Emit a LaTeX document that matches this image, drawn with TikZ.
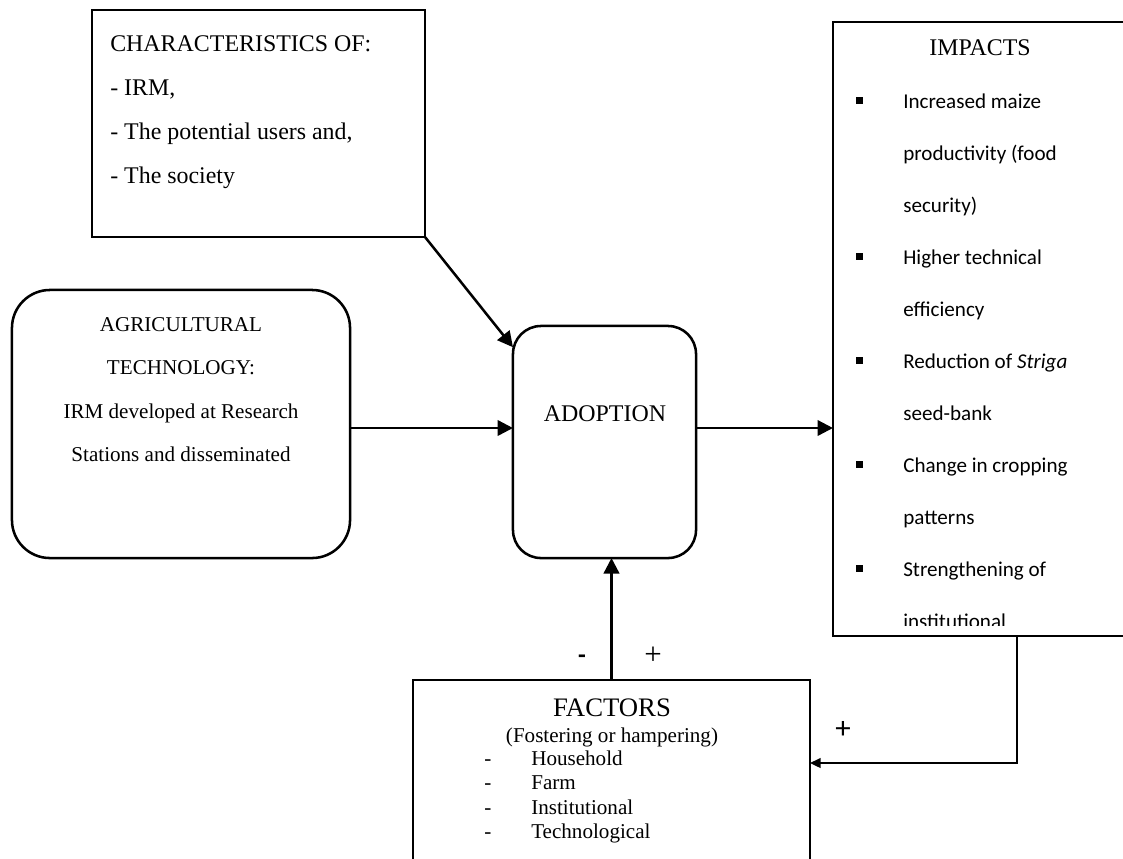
\documentclass[tikz,border=0pt]{standalone}
\usepackage{fontspec}
\setmainfont{Liberation Serif}
\newfontfamily\calibri{Carlito}
\usetikzlibrary{arrows.meta}

\tikzset{
  box/.style={draw, line width=1.8pt, inner sep=0pt, outer sep=0pt},
  roundbox/.style={box, rounded corners=#1},
  conn/.style={line width=1.8pt, -{Triangle[length=11pt,width=11pt]}},
  backconn/.style={line width=1.1pt, -{Triangle[length=7.5pt,width=7pt]}},
  bigtxt/.style={font=\fontsize{17}{20}\selectfont, inner sep=0pt},
  midtxt/.style={font=\fontsize{15}{18}\selectfont, inner sep=0pt},
  imptxt/.style={font=\calibri\fontsize{15}{18}\selectfont, inner sep=0pt, anchor=base west},
  bulletsq/.style={fill, inner sep=0pt, minimum size=5pt}
}

\begin{document}
\begin{tikzpicture}[x=0.025cm, y=-0.025cm]
  \useasboundingbox (0,0) rectangle (1123,858);
  \clip (0,0) rectangle (1123,858);

  % Boxes
  \node[box, minimum width=8.325cm, minimum height=5.675cm] (chars) at (258.5,123.5) {};
  \node[roundbox=0.95cm, minimum width=8.45cm, minimum height=6.7cm] (agri) at (181,424) {};
  \node[roundbox=0.7cm, minimum width=4.575cm, minimum height=5.8cm] (adopt) at (604.5,442) {};
  \node[box, minimum width=7.425cm, minimum height=15.35cm] (impacts) at (981.5,329) {};
  \node[box, minimum width=9.925cm, minimum height=5cm] (factors) at (611.5,780) {};

  % Characteristics text
  \foreach \t [count=\i] in {CHARACTERISTICS OF:, {- IRM,}, {- The potential users and,}, - The society} {
    \node[bigtxt, anchor=base west] (chline\i) at (110,{51+(\i-1)*44}) {\t};
  }

  % Agricultural technology text
  \foreach \t [count=\i] in {AGRICULTURAL, TECHNOLOGY:, IRM developed at Research, Stations and disseminated} {
    \node[midtxt, anchor=base] (agline\i) at (181,{331+(\i-1)*43.5}) {\t};
  }

  \node[bigtxt, anchor=base] (adopttxt) at (605,421) {ADOPTION};

  % Impacts list
  \node[bigtxt, anchor=base] (imptitle) at (980,55) {IMPACTS};
  \begin{scope}
    \clip (833,22) rectangle (1123,625);
    \foreach \t [count=\i] in {Increased maize, productivity (food, security), Higher technical,
        efficiency, Reduction of \textit{Striga}, seed-bank, Change in cropping, patterns,
        Strengthening of, institutional} {
      \node[imptxt] (impline\i) at (903,{108+(\i-1)*52}) {\t};
    }
  \end{scope}
  \foreach \i in {1,4,6,8,10} {
    \node[bulletsq] (bullet\i) at (859.5,{100.5+(\i-1)*52}) {};
  }

  % Factors text
  \node[font=\fontsize{19}{22}\selectfont, inner sep=0pt, anchor=base] (factitle) at (612,716) {FACTORS};
  \node[midtxt, anchor=base] (facsub) at (612,742) {(Fostering or hampering)};
  \foreach \t [count=\i] in {Household, Farm, Institutional, Technological} {
    \node[midtxt, anchor=base] (facdash\i) at (488,{765+(\i-1)*24.5}) {-};
    \node[midtxt, anchor=base west] (facline\i) at (531,{765+(\i-1)*24.5}) {\t};
  }

  % Connectors
  \coordinate (row) at (0,428);
  \coordinate (fback) at (1017,763);
  \draw[conn] (chars.south east) -- (adopt.134);
  \draw[conn] (agri.east |- row) -- (adopt.west |- row);
  \draw[conn] (adopt.east |- row) -- (impacts.west |- row);
  \draw[conn] (factors.north) -- (factors.north |- adopt.south);
  \draw[backconn] (impacts.south -| fback) |- (factors.east |- fback);

  % Signs
  \node[font=\calibri\bfseries\fontsize{18}{20}\selectfont, inner sep=0pt] (minus) at (582,659) {-};
  \node[font=\fontsize{22}{24}\selectfont, inner sep=0pt] (plusup) at (653,656) {+};
  \node[font=\calibri\fontsize{22}{24}\selectfont, inner sep=0pt] (plusback) at (843,730) {+};
\end{tikzpicture}
\end{document}
